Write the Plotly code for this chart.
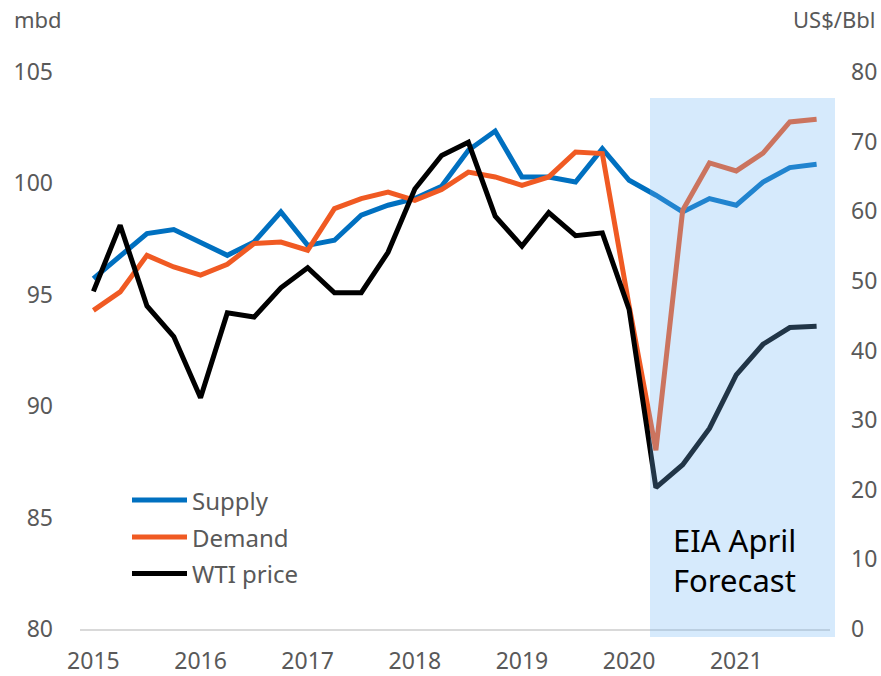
import plotly.graph_objects as go

quarters = list(range(28))  # 2015Q1 .. 2021Q4
year_ticks = [0, 4, 8, 12, 16, 20, 24]
year_labels = ["2015", "2016", "2017", "2018", "2019", "2020", "2021"]

supply = [95.73, 96.77, 97.75, 97.93, 97.37, 96.77, 97.37, 98.72, 97.22, 97.45,
          98.57, 99.02, 99.32, 99.87, 101.49, 102.35, 100.29, 100.29, 100.06, 101.56,
          100.14, 99.47, 98.72, 99.32, 99.02, 100.06, 100.71, 100.86]
demand = [94.30, 95.13, 96.77, 96.25, 95.88, 96.37, 97.30, 97.37, 97.00, 98.87,
          99.32, 99.61, 99.24, 99.72, 100.51, 100.29, 99.91, 100.29, 101.41, 101.34,
          94.5, 88.02, 98.79, 100.92, 100.56, 101.36, 102.76, 102.88]
wti = [48.5, 58.0, 46.4, 42.0, 33.2, 45.4, 44.8, 49.0, 51.9, 48.3,
       48.3, 54.1, 63.2, 68.0, 69.9, 59.3, 55.0, 59.8, 56.5, 56.9,
       45.9, 20.3, 23.6, 28.8, 36.5, 40.9, 43.3, 43.5]

left_ticks = [80, 85, 90, 95, 100, 105]
right_ticks = [0, 10, 20, 30, 40, 50, 60, 70, 80]

series_names = ["Supply", "Demand", "WTI price"]
series_colors = ["#0070C0", "#F05A23", "#000000"]

FONT = "Noto Sans"
GRAY = "#595959"

fig = go.Figure()
fig.add_trace(go.Scatter(x=quarters, y=supply, name=series_names[0], mode="lines",
                         line=dict(color=series_colors[0], width=5), showlegend=False))
fig.add_trace(go.Scatter(x=quarters, y=demand, name=series_names[1], mode="lines",
                         line=dict(color=series_colors[1], width=5), showlegend=False))
fig.add_trace(go.Scatter(x=quarters, y=wti, name=series_names[2], mode="lines", yaxis="y2",
                         line=dict(color=series_colors[2], width=5), showlegend=False))

W, H = 881, 676
L, R, T, B = 80, 51, 72, 47
pw, ph = W - L - R, H - T - B


def px(x):
    return (x - L) / pw


def py(y):
    return (H - B - y) / ph


shapes = [
    # forecast shading (drawn over lines)
    dict(type="rect", xref="paper", yref="paper", x0=px(650), x1=px(835), y0=py(637), y1=py(98),
         fillcolor="rgba(114,183,245,0.29)", line=dict(width=0), layer="above"),
]
annotations = []
legend_y = [500, 537, 573.5]
for name, col, yy in zip(series_names, series_colors, legend_y):
    shapes.append(dict(type="line", xref="paper", yref="paper", x0=px(132), x1=px(187),
                       y0=py(yy), y1=py(yy), line=dict(color=col, width=5)))
    annotations.append(dict(text=name, xref="paper", yref="paper", x=px(190), y=py(yy),
                            xanchor="left", yanchor="middle", showarrow=False,
                            font=dict(family=FONT, size=24, color=GRAY)))

annotations.append(dict(text="EIA April<br>Forecast", xref="paper", yref="paper",
                        x=px(671), y=py(560), xanchor="left", yanchor="middle", align="left",
                        showarrow=False, font=dict(family=FONT, size=31, color="#000000")))
annotations.append(dict(text="mbd", xref="paper", yref="paper", x=px(12), y=py(19),
                        xanchor="left", yanchor="middle", showarrow=False,
                        font=dict(family=FONT, size=22, color=GRAY)))
annotations.append(dict(text="US$/Bbl", xref="paper", yref="paper", x=px(877), y=py(19),
                        xanchor="right", yanchor="middle", showarrow=False,
                        font=dict(family=FONT, size=22, color=GRAY)))

fig.update_layout(
    width=W, height=H,
    margin=dict(l=L, r=R, t=T, b=B, pad=0, autoexpand=False),
    paper_bgcolor="white", plot_bgcolor="white",
    font=dict(family=FONT, size=24, color=GRAY),
    shapes=shapes, annotations=annotations,
    xaxis=dict(range=[-0.5, 27.5], tickvals=year_ticks, ticktext=year_labels,
               showgrid=False, zeroline=False, showline=True, linecolor="#d9d9d9",
               linewidth=2, ticks="", ticklabelstandoff=10, automargin=False,
               tickfont=dict(family=FONT, size=23, color=GRAY)),
    yaxis=dict(range=[80, 105], tickvals=left_ticks, showgrid=False, zeroline=False,
               showline=False, ticks="", ticklabelstandoff=26, automargin=False,
               tickfont=dict(family=FONT, size=23, color=GRAY)),
    yaxis2=dict(range=[0, 80], tickvals=right_ticks, overlaying="y", side="right",
                showgrid=False, zeroline=False, showline=False, ticks="",
                ticklabelstandoff=20, automargin=False,
                tickfont=dict(family=FONT, size=23, color=GRAY)),
    showlegend=False,
)

fig.write_html("out.html", config={"displayModeBar": False},
               post_script="document.body.style.margin='0';document.body.style.overflow='hidden';")
